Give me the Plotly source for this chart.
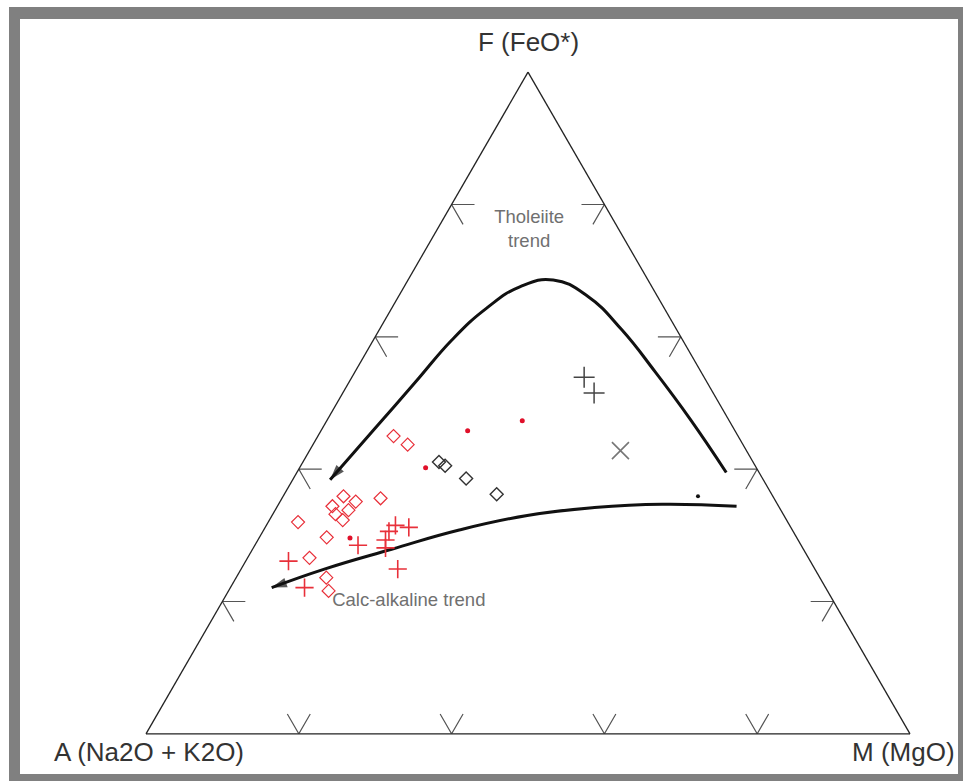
import plotly.graph_objects as go

# AFM diagram: F = FeO*, A = Na2O + K2O, M = MgO (all in percent)

# red open diamonds
red_dia_F = [45.0, 43.7, 35.6, 35.9, 35.1, 34.4, 33.8, 33.2, 32.3, 32.0, 29.7, 26.6, 23.6, 21.6]
red_dia_A = [45.1, 43.9, 51.5, 56.2, 55.0, 58.4, 56.6, 58.6, 58.1, 64.1, 61.5, 65.3, 64.6, 65.3]
red_dia_M = [9.9, 12.4, 12.9, 7.9, 9.9, 7.2, 9.6, 8.2, 9.6, 3.9, 8.8, 8.1, 11.8, 13.1]

# red crosses
red_plus_F = [31.2, 31.5, 30.6, 29.3, 28.1, 28.5, 26.1, 24.9, 22.1]
red_plus_A = [50.0, 51.6, 52.9, 54.0, 54.6, 58.0, 68.3, 54.6, 68.2]
red_plus_M = [18.8, 16.9, 16.5, 16.7, 17.3, 13.5, 5.6, 20.5, 9.7]

# red dots
red_dot_F = [45.8, 47.3, 40.2, 29.6]
red_dot_A = [35.0, 27.1, 43.3, 58.5]
red_dot_M = [19.2, 25.6, 16.5, 11.9]

# black open diamonds
blk_dia_F = [41.1, 40.5, 38.6, 36.2]
blk_dia_A = [41.1, 40.6, 38.8, 36.0]
blk_dia_M = [17.8, 18.9, 22.6, 27.8]

# black crosses
blk_plus_F = [53.9, 51.5]
blk_plus_A = [15.7, 15.6]
blk_plus_M = [30.4, 32.9]

# black x
blk_x_F = [42.8]
blk_x_A = [16.5]
blk_x_M = [40.7]

# black dot
blk_dot_F = [35.9]
blk_dot_A = [9.8]
blk_dot_M = [54.3]

# tholeiitic trend (drawn from the MgO-rich end toward the arrow tip)
thol_F = [39.5, 47.6, 54.7, 61.1, 66.1, 68.6, 67.6, 64.3, 59.6, 53.2, 45.8, 38.4]
thol_A = [4.3, 5.0, 6.0, 7.2, 9.1, 12.4, 17.2, 23.3, 30.1, 38.1, 47.4, 56.7]
thol_M = [56.2, 47.4, 39.3, 31.7, 24.8, 19.0, 15.2, 12.4, 10.3, 8.7, 6.8, 4.9]

# calc-alkaline trend
calc_F = [34.4, 34.7, 34.2, 33.0, 30.8, 27.9, 24.9, 22.1]
calc_A = [5.5, 15.1, 24.2, 33.6, 43.6, 53.9, 64.2, 72.5]
calc_M = [60.1, 50.2, 41.6, 33.4, 25.6, 18.2, 10.9, 5.4]

# trend labels
label_text = ["Tholeiite<br>trend", "Calc-alkaline trend"]
label_F = [76.1, 20.0]
label_A = [11.8, 55.6]
label_M = [12.1, 24.4]

# edge tick positions and tick arm length (percent)
tick_vals = [20, 40, 60, 80]
tick_len = 3.0

# ---------------------------------------------------------------------------
W, H = 963, 781
M_L, M_T, PLOT_W, PLOT_H = 146, 72, 764, 662
M_R = W - M_L - PLOT_W
M_B = H - M_T - PLOT_H


def px(x):
    return (x - M_L) / PLOT_W


def py(y):
    return 1 - (y - M_T) / PLOT_H


RED = "#e8303a"
FONT = "Liberation Sans, Arial, sans-serif"

fig = go.Figure()

# edge tick marks: a pair of short grid-direction arms at each tick value
tk_a, tk_b, tk_c = [], [], []
for t in tick_vals:
    # left edge (M = 0): arm along constant F and arm along constant A
    tk_a += [t, t, t - tick_len, None]
    tk_b += [100 - t - tick_len, 100 - t, 100 - t, None]
    tk_c += [tick_len, 0, tick_len, None]
    # right edge (A = 0): arm along constant F and arm along constant M
    tk_a += [t, t, t - tick_len, None]
    tk_b += [tick_len, 0, tick_len, None]
    tk_c += [100 - t - tick_len, 100 - t, 100 - t, None]
    # bottom edge (F = 0): arm along constant M and arm along constant A
    tk_a += [tick_len, 0, tick_len, None]
    tk_b += [100 - t - tick_len, 100 - t, 100 - t, None]
    tk_c += [t, t, t - tick_len, None]

fig.add_trace(go.Scatterternary(
    a=tk_a, b=tk_b, c=tk_c, mode="lines",
    line=dict(color="#555555", width=1.2), connectgaps=False,
    hoverinfo="skip", showlegend=False))


def trend(a, b, c):
    n = len(a)
    return go.Scatterternary(
        a=a, b=b, c=c, mode="lines+markers",
        line=dict(color="#111111", width=3, shape="spline", smoothing=1.3),
        marker=dict(symbol="arrow", size=[0] * (n - 1) + [16],
                    angleref="previous", color="#111111",
                    line=dict(width=0)),
        showlegend=False, hoverinfo="skip")


fig.add_trace(trend(thol_F, thol_A, thol_M))
fig.add_trace(trend(calc_F, calc_A, calc_M))

fig.add_trace(go.Scatterternary(
    a=red_dia_F, b=red_dia_A, c=red_dia_M, mode="markers",
    marker=dict(symbol="diamond-open", size=10, color=RED, line=dict(width=1.2)),
    showlegend=False))
fig.add_trace(go.Scatterternary(
    a=red_plus_F, b=red_plus_A, c=red_plus_M, mode="markers",
    marker=dict(symbol="cross-thin-open", size=13, color=RED, line=dict(width=1.6, color=RED)),
    showlegend=False))
fig.add_trace(go.Scatterternary(
    a=red_dot_F, b=red_dot_A, c=red_dot_M, mode="markers",
    marker=dict(symbol="circle", size=5, color="#e0102a"),
    showlegend=False))
fig.add_trace(go.Scatterternary(
    a=blk_dia_F, b=blk_dia_A, c=blk_dia_M, mode="markers",
    marker=dict(symbol="diamond-open", size=10, color="#333333", line=dict(width=1.4)),
    showlegend=False))
fig.add_trace(go.Scatterternary(
    a=blk_plus_F, b=blk_plus_A, c=blk_plus_M, mode="markers",
    marker=dict(symbol="cross-thin-open", size=15, color="#444444", line=dict(width=1.5, color="#444444")),
    showlegend=False))
fig.add_trace(go.Scatterternary(
    a=blk_x_F, b=blk_x_A, c=blk_x_M, mode="markers",
    marker=dict(symbol="x-thin-open", size=17, color="#777777", line=dict(width=1.6, color="#777777")),
    showlegend=False))
fig.add_trace(go.Scatterternary(
    a=blk_dot_F, b=blk_dot_A, c=blk_dot_M, mode="markers",
    marker=dict(symbol="circle", size=4, color="#111111"),
    showlegend=False))

fig.add_trace(go.Scatterternary(
    a=label_F, b=label_A, c=label_M, mode="text", text=label_text,
    textfont=dict(family=FONT, size=18.5, color="#707070"),
    hoverinfo="skip", showlegend=False))

axis_style = dict(showline=True, linecolor="#222222", linewidth=1.3,
                  showgrid=False, ticks="", showticklabels=False,
                  title=dict(text=""))

fig.update_layout(
    width=W, height=H,
    margin=dict(l=M_L, r=M_R, t=M_T, b=M_B, pad=0),
    paper_bgcolor="white",
    ternary=dict(sum=100, bgcolor="white",
                 aaxis=axis_style, baxis=axis_style, caxis=axis_style),
    showlegend=False,
)

# grey frame around the figure
GREY = "#808080"
frame = [(9, 7, 963, 19), (9, 7, 20, 781), (958, 7, 963, 781), (9, 774, 963, 781)]
for x0, y0, x1, y1 in frame:
    fig.add_shape(type="rect", xref="paper", yref="paper",
                  x0=px(x0), x1=px(x1), y0=py(y1), y1=py(y0),
                  line=dict(width=0), fillcolor=GREY, layer="below")

# vertex labels
vlab = dict(xref="paper", yref="paper", showarrow=False,
            font=dict(family=FONT, size=26, color="#333333"), yanchor="middle")
fig.add_annotation(text="F (FeO*)", x=px(528), y=py(42), xanchor="center", **vlab)
fig.add_annotation(text="A (Na2O + K2O)", x=px(52), y=py(752), xanchor="left", **vlab)
fig.add_annotation(text="M (MgO)", x=px(957), y=py(752), xanchor="right", **vlab)

fig.write_html("out.html")
